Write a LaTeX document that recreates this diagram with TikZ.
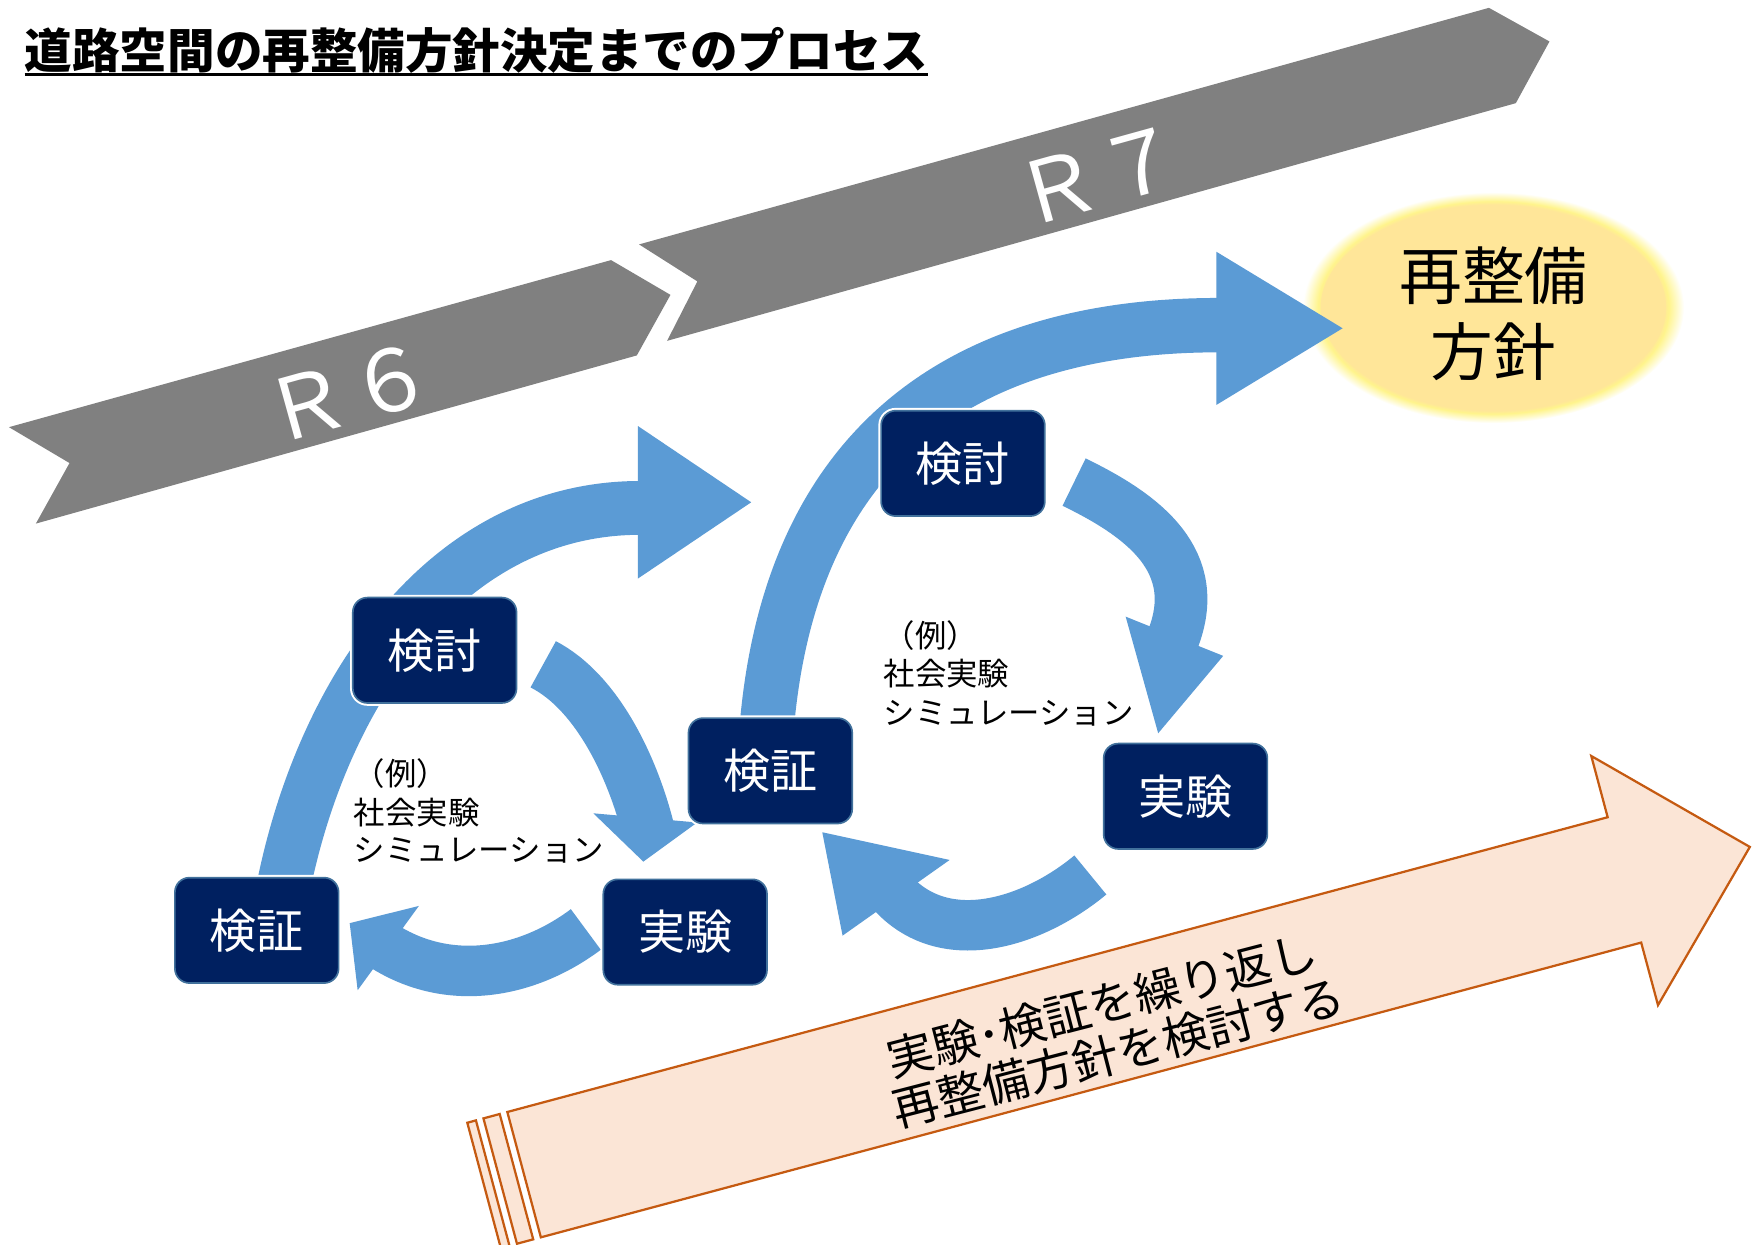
\documentclass[tikz,border=0pt]{standalone}
\usepackage{fontspec}
\newfontfamily\jp{Noto Sans CJK JP}
\definecolor{bandgray}{RGB}{128,128,128}
\definecolor{arrowblue}{RGB}{91,155,213}
\definecolor{navy}{RGB}{0,32,96}
\definecolor{boxline}{RGB}{65,113,156}
\definecolor{sun}{RGB}{255,230,153}
\definecolor{halo}{RGB}{255,244,140}
\definecolor{peach}{RGB}{251,229,214}
\definecolor{rust}{RGB}{197,90,17}
\pgfdeclareradialshading{glowshade}{\pgfpoint{0bp}{0bp}}{color(0bp)=(sun); color(22.3bp)=(sun); color(23bp)=(halo); color(25bp)=(white); color(50bp)=(white)}
\begin{document}
\begin{tikzpicture}[x=1pt,y=-1pt,
  cyclebox/.style={rounded corners=13pt, fill=navy, draw=boxline, line width=1.5pt,
    minimum width=146pt, minimum height=94pt, inner sep=0pt, text=white,
    font=\jp\fontsize{42}{50}\selectfont, preaction={draw=white, line width=5pt}},
  flow/.style={draw=arrowblue, line width=47pt},
  bluehead/.style={fill=arrowblue},
  exlabel/.style={anchor=west, inner sep=0pt, font=\jp\fontsize{28}{34}\selectfont},
  yearlabel/.style={rotate=15.5, text=white, inner sep=0pt, font=\jp\fontsize{76}{82}\selectfont},
  stripe/.style={fill=peach, draw=rust, line width=2pt, line join=miter},
  rottext/.style={rotate=14.5, inner sep=0pt, font=\jp\fontsize{41.5}{49}\selectfont},
]
\useasboundingbox[fill=white] (0,0) rectangle (1568,1110);

% gray year bands
\fill[bandgray] (8,381) -- (545,232) -- (598,263) -- (568,317) -- (32,467) -- (62,413) -- cycle;
\fill[bandgray] (570,218) -- (1328,7) -- (1382,37) -- (1352,92) -- (595,304) -- (622,251) -- cycle;
\node[yearlabel] (r6) at (311,350) {Ｒ６};
\node[yearlabel] (r7) at (980.6,156.6) {Ｒ７};

% goal glow
\shade[shading=glowshade] (1332,274.3) ellipse [x radius=170, y radius=103];
\fill[sun] (1332,274.3) ellipse [x radius=154, y radius=90];
\node[inner sep=0pt, align=center, font=\jp\fontsize{56}{68}\selectfont] (goal) at (1332,280) {再整備\\方針};

% blue arrows, left cycle
\draw[flow, line width=48pt] (253,790) .. controls (289,613.6) and (399,453) .. (571,453);
\fill[bluehead] (569,380) -- (670,448) -- (569,516) -- cycle;
\draw[flow] (484.5,592.5) .. controls (533.5,617.8) and (564.3,685.9) .. (577.7,738.2);
\fill[bluehead] (529.2,725.4) -- (573.8,768.5) -- (621.8,733.6) -- cycle;
\draw[flow, line width=45pt] (522.5,829) .. controls (470.5,868) and (400.6,881.5) .. (341.2,843.2);
\fill[bluehead] (373.6,808) -- (311.9,823.4) -- (319,883.2) -- cycle;

% blue arrows, right cycle
\draw[flow, line width=48.5pt] (683,660) .. controls (700,410) and (845,290) .. (1087,290);
\fill[bluehead] (1085,224.6) -- (1197.5,292.8) -- (1085,361.1) -- cycle;
\draw[flow] (958,430) .. controls (1021,460.5) and (1073.5,501) .. (1045.8,570.8);
\fill[bluehead] (1004,550) -- (1033,654) -- (1091,585) -- cycle;
\draw[flow, line width=45pt] (972.5,780.4) .. controls (922.5,822) and (844.2,848.2) .. (796.6,797);
\fill[bluehead] (847,767) -- (733.4,742.3) -- (751.5,834.5) -- cycle;

% boxes
\node[cyclebox] (k1) at (387.7,580) {検討};
\node[cyclebox] (s1) at (229,829.8) {検証};
\node[cyclebox] (j1) at (611.1,831.3) {実験};
\node[cyclebox] (k2) at (858.9,413.3) {検討};
\node[cyclebox] (s2) at (687.1,687.5) {検証};
\node[cyclebox] (j2) at (1057.4,710.2) {実験};

% example labels
\node[exlabel] (e1a) at (315.5,690) {（例）};
\node[exlabel] (e1b) at (315.5,725) {社会実験};
\node[exlabel] (e1c) at (315.5,758.5) {シミュレーション};
\node[exlabel] (e2a) at (788,567) {（例）};
\node[exlabel] (e2b) at (788,600.5) {社会実験};
\node[exlabel] (e2c) at (788,636) {シミュレーション};

% striped orange arrow
\filldraw[stripe] (452.5,991.8) -- (1433.9,728.9) -- (1419.3,674.3) -- (1560.7,755.4) -- (1478.8,896.5) -- (1463.8,840.7) -- (482.4,1103.6) -- cycle;
\filldraw[stripe] (431.2,997.5) -- (445.7,993.6) -- (475.6,1105.4) -- (461.1,1109.3) -- cycle;
\filldraw[stripe] (416.8,1001.4) -- (424.5,999.3) -- (454.4,1111.1) -- (446.7,1113.2) -- cycle;
\node[rottext] (t1) at (982.6,896.4) {実験･検証を繰り返し};
\node[rottext] (t2) at (997.5,938.8) {再整備方針を検討する};

% title
\node[anchor=base west, inner sep=0pt, font=\jp\bfseries\fontsize{42.4}{50}\selectfont] (title) at (22,61) {道路空間の再整備方針決定までのプロセス};
\draw[line width=2.5pt] (22,66.5) -- (828,66.5);
\end{tikzpicture}
\end{document}
